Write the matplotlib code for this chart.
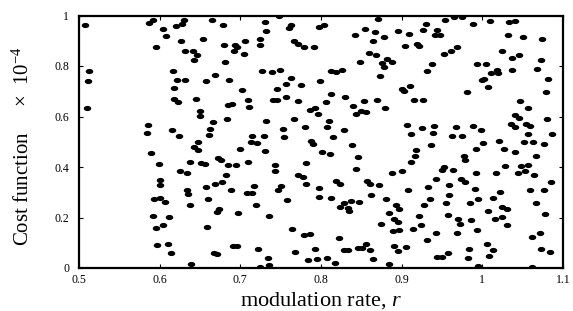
import numpy as np
import matplotlib
matplotlib.use("Agg")
import matplotlib.pyplot as plt
from matplotlib.path import Path

# modulation rate r and cost function (x 1e-4), read band by band
r_a = [0.508,0.587,0.592,0.596,0.513,0.511,0.510,0.586,0.584,0.589,0.599,0.593,0.592,0.595,0.597]
c_a = [0.961,0.971,0.982,0.877,0.779,0.742,0.634,0.567,0.533,0.454,0.413,0.273,0.204,0.160,0.090]

r_b = [0.630,0.628,0.665,0.678,0.604,0.620,0.608,0.654,0.627,0.680,0.693,0.696,0.631,0.641,0.646,0.643,0.692,0.681,
       0.617,0.668,0.621,0.632,0.657,0.686,0.618,0.618,0.623,0.645,0.685,0.690,0.650,0.650,0.683,0.666,0.615,0.663,
       0.624,0.661,0.648,0.642,0.647,0.672,0.676,0.637,0.651,0.656,0.685,0.695,0.625,0.634,0.682,0.601,0.601,0.677,
       0.669,0.657,0.688,0.634,0.635,0.601,0.606,0.660,0.637,0.674,0.671,0.697,0.612,0.604,0.659,0.610,0.691,0.696,
       0.614,0.667,0.671,0.639]
c_b = [0.981,0.968,0.984,0.964,0.948,0.958,0.918,0.907,0.898,0.885,0.885,0.876,0.861,0.858,0.845,0.825,0.861,0.815,
       0.782,0.766,0.746,0.743,0.739,0.743,0.713,0.669,0.659,0.669,0.647,0.650,0.623,0.601,0.590,0.577,0.545,0.552,
       0.524,0.526,0.500,0.481,0.466,0.435,0.429,0.418,0.415,0.413,0.407,0.409,0.386,0.377,0.369,0.348,0.328,0.341,
       0.331,0.321,0.310,0.310,0.295,0.278,0.262,0.272,0.249,0.233,0.222,0.217,0.201,0.171,0.163,0.095,0.087,0.087,
       0.061,0.058,0.057,0.016]

r_c = [0.748,0.730,0.763,0.760,0.732,0.706,0.725,0.725,0.704,0.767,0.772,0.779,0.791,0.727,0.739,0.749,0.763,0.756,
       0.746,0.775,0.702,0.710,0.711,0.741,0.746,0.757,0.772,0.786,0.793,0.796,0.732,0.766,0.780,0.753,0.754,0.715,
       0.713,0.721,0.729,0.788,0.790,0.700,0.731,0.709,0.743,0.743,0.782,0.772,0.778,0.781,0.797,0.717,0.750,0.747,
       0.708,0.715,0.758,0.719,0.736,0.764,0.779,0.786,0.722,0.768,0.792,0.734,0.784,0.795,0.735,0.724]
c_c = [0.997,0.974,0.964,0.952,0.939,0.898,0.907,0.882,0.848,0.898,0.888,0.874,0.874,0.782,0.775,0.784,0.753,0.730,
       0.710,0.724,0.704,0.664,0.638,0.664,0.667,0.677,0.663,0.624,0.632,0.610,0.583,0.591,0.558,0.550,0.519,0.524,
       0.499,0.495,0.521,0.503,0.492,0.471,0.463,0.418,0.407,0.385,0.415,0.370,0.362,0.333,0.280,0.325,0.323,0.307,
       0.296,0.299,0.269,0.249,0.205,0.156,0.131,0.135,0.075,0.063,0.075,0.038,0.033,0.037,0.011,0.005]

r_d = [0.797,0.804,0.871,0.855,0.867,0.895,0.842,0.878,0.865,0.859,0.868,0.848,0.876,0.882,0.888,0.878,0.813,0.819,
       0.826,0.873,0.799,0.812,0.830,0.806,0.853,0.869,0.840,0.879,0.849,0.856,0.843,0.810,0.808,0.829,0.815,0.839,
       0.801,0.811,0.846,0.844,0.888,0.798,0.818,0.824,0.857,0.861,0.872,0.862,0.812,0.880,0.828,0.823,0.837,
       0.847,0.833,0.835,0.893,0.884,0.890,0.896,0.875,0.889,0.897,0.822,0.828,0.833,0.846,0.851,0.856,0.861,0.890,
       0.895,0.807,0.817,0.864,0.884]
c_d = [0.954,0.964,0.987,0.947,0.934,0.940,0.921,0.914,0.898,0.852,0.845,0.817,0.812,0.828,0.817,0.796,0.782,0.775,
       0.786,0.762,0.742,0.689,0.677,0.656,0.660,0.667,0.640,0.635,0.623,0.618,0.610,0.583,0.557,0.545,0.520,0.488,
       0.459,0.451,0.441,0.392,0.376,0.316,0.345,0.331,0.345,0.332,0.329,0.290,0.278,0.275,0.259,0.243,0.266,
       0.261,0.237,0.224,0.249,0.217,0.193,0.184,0.175,0.148,0.151,0.118,0.071,0.071,0.078,0.081,0.095,0.071,0.087,
       0.069,0.041,0.019,0.034,0.015]

r_e = [0.954,0.965,0.975,0.989,0.930,0.909,0.926,0.944,0.941,0.948,0.904,0.919,0.922,0.969,0.961,0.952,0.937,0.931,
       0.993,0.901,0.903,0.910,0.981,0.915,0.926,0.907,0.911,0.925,0.940,0.939,0.967,0.962,0.975,0.988,0.936,0.918,
       0.917,0.912,0.992,0.977,0.979,0.953,0.950,0.964,0.900,0.992,0.973,0.979,0.943,0.959,0.908,0.933,0.991,0.959,
       0.935,0.928,0.955,0.985,0.995,0.897,0.921,0.957,0.970,0.972,0.986,0.924,0.914,0.943,0.968,0.994,0.932,0.905,
       0.984,0.957,0.944,0.950,0.982,0.995]
c_e = [0.982,0.995,0.995,0.967,0.967,0.925,0.942,0.942,0.921,0.921,0.881,0.889,0.881,0.876,0.858,0.848,0.806,0.782,
       0.806,0.709,0.702,0.722,0.696,0.664,0.667,0.565,0.530,0.554,0.564,0.534,0.558,0.521,0.521,0.564,0.486,0.468,
       0.444,0.421,0.471,0.442,0.426,0.400,0.389,0.389,0.385,0.376,0.352,0.339,0.352,0.328,0.310,0.320,0.314,0.288,
       0.275,0.249,0.257,0.259,0.272,0.233,0.204,0.208,0.196,0.175,0.190,0.169,0.153,0.138,0.138,0.151,0.111,0.082,
       0.074,0.061,0.045,0.045,0.038,0.008]

r_f = [1.010,1.033,1.041,1.032,1.051,1.074,1.024,1.037,1.046,1.073,1.004,1.018,1.020,1.011,1.037,1.068,0.999,1.002,
       1.082,1.007,1.079,1.047,1.056,1.041,1.045,1.080,1.035,1.041,1.054,1.059,0.998,1.056,1.086,1.021,1.027,1.001,
       1.052,1.063,1.077,1.040,1.066,1.028,1.048,1.057,1.053,1.044,1.064,1.017,1.085,1.022,1.059,1.076,1.013,1.066,
       1.025,1.030,1.007,1.016,1.024,1.078,1.030,1.071,1.062,1.006,1.013,1.008,1.073,1.084,1.061]
c_f = [0.977,0.974,0.977,0.921,0.914,0.907,0.858,0.832,0.845,0.825,0.806,0.786,0.772,0.772,0.784,0.788,0.746,0.750,
       0.750,0.717,0.698,0.663,0.632,0.605,0.593,0.590,0.571,0.557,0.571,0.564,0.545,0.532,0.529,0.504,0.471,0.495,
       0.499,0.499,0.491,0.460,0.442,0.402,0.402,0.407,0.386,0.376,0.370,0.376,0.340,0.302,0.307,0.308,0.279,0.259,
       0.241,0.234,0.226,0.196,0.201,0.212,0.169,0.140,0.122,0.094,0.071,0.048,0.075,0.065,0.005]

x_ticks = [0.5, 0.6, 0.7, 0.8, 0.9, 1.0, 1.1]
x_tick_labels = ["0.5", "0.6", "0.7", "0.8", "0.9", "1", "1.1"]
y_ticks = [0, 0.2, 0.4, 0.6, 0.8, 1.0]
y_tick_labels = ["0", "0.2", "0.4", "0.6", "0.8", "1"]

plt.rcParams['font.family'] = ['Liberation Serif', 'DejaVu Serif']
plt.rcParams['mathtext.fontset'] = 'custom'
plt.rcParams['mathtext.rm'] = 'Liberation Serif'
plt.rcParams['mathtext.it'] = 'Liberation Serif:italic'

fig = plt.figure(figsize=(5.73, 3.11), dpi=100)
ax = fig.add_axes([79/573, 1-268/311, (563-79)/573, (268-15.5)/311])

theta = np.linspace(0, 2*np.pi, 40)
ell = Path(np.column_stack([1.45*np.cos(theta), np.sin(theta)]), closed=True)

r_all = r_a + r_b + r_c + r_d + r_e + r_f
c_all = c_a + c_b + c_c + c_d + c_e + c_f
ax.plot(r_all, c_all, linestyle='none', marker=ell, markersize=5.4,
        color='black', markeredgewidth=0)

ax.set_xlim(0.5, 1.1)
ax.set_ylim(0, 1)
ax.set_xticks(x_ticks)
ax.set_xticklabels(x_tick_labels)
ax.set_yticks(y_ticks)
ax.set_yticklabels(y_tick_labels)
ax.tick_params(direction='in', length=3, width=0.8, top=True, right=True,
               labelsize=8.5, pad=4)
ax.tick_params(axis='y', pad=7)
for s in ax.spines.values():
    s.set_linewidth(1.6)
    s.set_zorder(5)

ax.set_xlabel("modulation rate, $r$", fontsize=16, labelpad=3.5)
ax.set_ylabel("Cost function     $\\times$  10$^{-4}$", fontsize=15)
ax.yaxis.set_label_coords(-0.093, 0.483)

fig.savefig("out.png", dpi=100)
